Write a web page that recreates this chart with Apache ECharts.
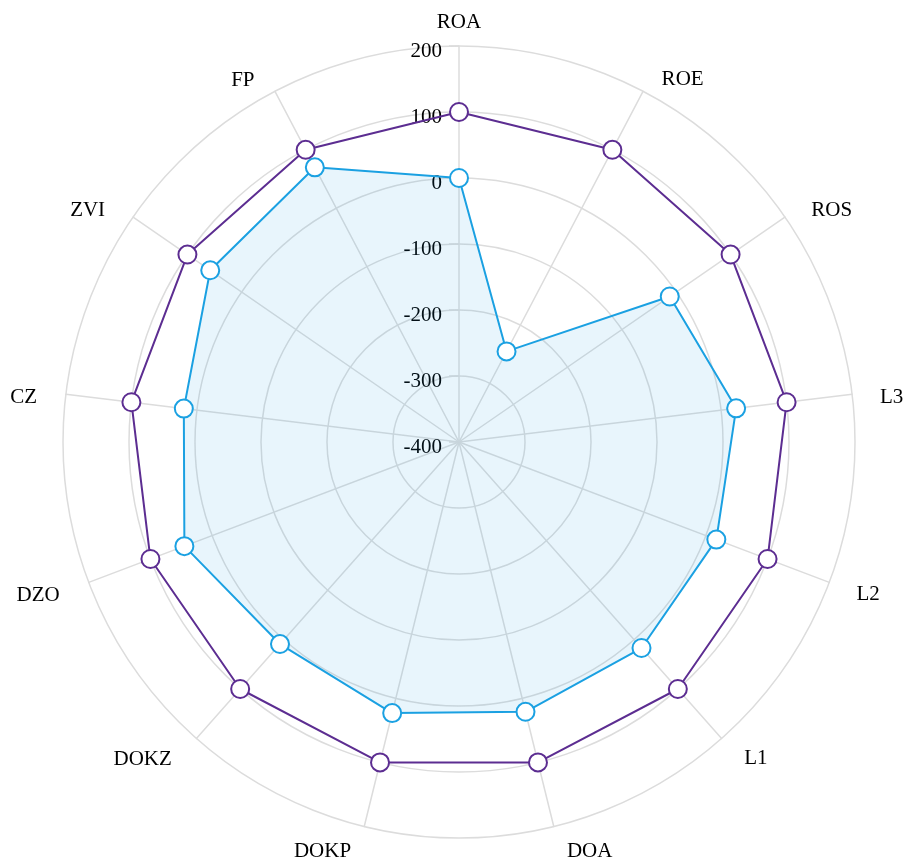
<!DOCTYPE html>
<html>
<head>
<meta charset="utf-8">
<title>radar</title>
<script src="https://cdn.jsdelivr.net/npm/echarts@6/dist/echarts.min.js"></script>
<style>
  html, body { margin: 0; padding: 0; background: #fff; }
  #chart { width: 904px; height: 859px; }
</style>
</head>
<body>
<div id="chart"></div>
<script>
  // indicators in clockwise order, starting at the top
  const categories = ['ROA', 'ROE', 'ROS', 'L3', 'L2', 'L1', 'DOA', 'DOKP', 'DOKZ', 'DZO', 'CZ', 'ZVI', 'FP'];
  const purpleValues = [100, 100, 100, 100, 100, 100, 100, 100, 100, 100, 100, 100, 100];
  const blueValues = [0, -245, -12, 23, 17, 17, 21, 23, 9, 45, 20, 58, 70];
  const axisMin = -400;
  const axisMax = 200;

  // name placement: [gap from the outer ring, vertical nudge in px]
  const namePlace = {
    ROA: [13, 0], ROE: [40, 24], ROS: [32, 12], L3: [28, 7], L2: [29, 2], L1: [34, -5],
    DOA: [55, -28], DOKP: [55, -28], DOKZ: [37, -7], DZO: [31, 2], CZ: [29, 7], ZVI: [34, 13], FP: [44, 28]
  };

  // echarts lays the radar out counter-clockwise, so flip everything after the first one
  function ccw(arr) {
    return [arr[0]].concat(arr.slice(1).reverse());
  }

  const font = 'Liberation Serif';
  const indicator = ccw(categories).map(function (name, i) {
    const p = namePlace[name];
    const ind = { name: name, min: axisMin, max: axisMax, nameGap: p[0] };
    if (p[1] !== 0) {
      ind.nameTextStyle = {
        verticalAlign: p[1] > 0 ? 'top' : 'bottom',
        lineHeight: Math.abs(p[1]) * 2
      };
    }
    if (i > 0) {
      ind.axisLabel = { show: false };
      ind.axisTick = { show: false };
    }
    return ind;
  });

  const myChart = echarts.init(document.getElementById('chart'));
  const option = {
    animation: false,
    radar: {
      center: [459, 442],
      radius: 396,
      startAngle: 90,
      shape: 'circle',
      splitNumber: 6,
      indicator: indicator,
      axisName: {
        color: '#000',
        fontFamily: font,
        fontSize: 21
      },
      axisLine: { lineStyle: { color: '#dcdcdc', width: 1.5 } },
      splitLine: { lineStyle: { color: '#dcdcdc', width: 1.5 } },
      splitArea: { show: false },
      axisTick: { show: true, length: 10, lineStyle: { color: '#dcdcdc', width: 1.5 } },
      axisLabel: {
        show: true,
        color: '#000',
        fontFamily: font,
        fontSize: 21,
        margin: 17,
        verticalAlign: 'top',
        lineHeight: 10
      }
    },
    series: [
      {
        type: 'radar',
        symbol: 'emptyCircle',
        symbolSize: 18,
        data: [
          {
            value: ccw(blueValues),
            lineStyle: { color: '#1ba1e2', width: 2 },
            itemStyle: { color: '#1ba1e2', borderWidth: 2 },
            areaStyle: { color: '#1ba1e2', opacity: 0.1 }
          },
          {
            value: ccw(purpleValues),
            lineStyle: { color: '#5c2d91', width: 2 },
            itemStyle: { color: '#5c2d91', borderWidth: 2 }
          }
        ]
      }
    ]
  };
  myChart.setOption(option);
</script>
</body>
</html>
